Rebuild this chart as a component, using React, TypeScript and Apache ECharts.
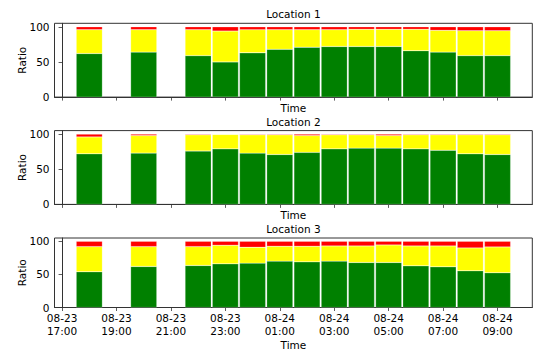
import React, { useEffect, useRef } from "react";
import * as echarts from "echarts";

// Hourly observation slots (MM-DD HH:mm)
const times = [
  "08-23 18:00", "08-23 20:00", "08-23 22:00", "08-23 23:00",
  "08-24 00:00", "08-24 01:00", "08-24 02:00", "08-24 03:00",
  "08-24 04:00", "08-24 05:00", "08-24 06:00", "08-24 07:00",
  "08-24 08:00", "08-24 09:00",
];

// Labelled ticks on the time axis
const tickTimes = [
  "08-23 17:00", "08-23 19:00", "08-23 21:00", "08-23 23:00",
  "08-24 01:00", "08-24 03:00", "08-24 05:00", "08-24 07:00", "08-24 09:00",
];

const yTicks = [0, 50, 100];

const locations = ["Location 1", "Location 2", "Location 3"];

// Share (%) of each state per slot
const loc1Green = [62, 64, 59, 50, 63, 68, 71, 72, 72, 72, 66, 64, 59, 59];
const loc1Yellow = [34, 32, 37, 44, 33, 28, 25, 24, 24.5, 24.5, 30.5, 31, 35.5, 35.5];
const loc1Red = [4, 4, 4, 6, 4, 4, 4, 4, 3.5, 3.5, 3.5, 5, 5.5, 5.5];

const loc2Green = [72, 73, 76, 79, 73, 71, 74, 79, 80, 80, 79, 77, 72, 71];
const loc2Yellow = [24, 25, 23, 20.5, 26, 28, 24, 20, 19, 18, 20, 22, 27, 28];
const loc2Red = [4, 2, 1, 0.5, 1, 1, 2, 1, 1, 2, 1, 1, 1, 1];

const loc3Green = [54, 62, 63.5, 66, 67, 70, 69, 70, 68, 68, 63, 61.5, 55.5, 52.5];
const loc3Yellow = [38, 30, 28.5, 28, 24, 22.5, 23.5, 23, 25, 26.5, 30, 31.5, 34.5, 39];
const loc3Red = [8, 8, 8, 6, 9, 7.5, 7.5, 7, 7, 5.5, 7, 7, 10, 8.5];

const greens = [loc1Green, loc2Green, loc3Green];
const yellows = [loc1Yellow, loc2Yellow, loc3Yellow];
const reds = [loc1Red, loc2Red, loc3Red];

// Hours since 08-23 17:00
function toHours(s: string): number {
  const [md, hm] = s.split(" ");
  const d = Number(md.split("-")[1]);
  const [h, m] = hm.split(":").map(Number);
  return (d - 23) * 24 + (h - 17) + m / 60;
}

function tickLabel(v: number): string {
  const t = tickTimes.find((s) => Math.abs(toHours(s) - v) < 1e-6);
  return t ? t.replace(" ", "\n") : "";
}

const FONT = "DejaVu Sans";
const FS = 10.5;
const INK = "#000";
const SPINE = "#333";

export default function App() {
  const ref = useRef<HTMLDivElement>(null);

  useEffect(() => {
    if (!ref.current) return;
    const chart = echarts.init(ref.current, undefined, { renderer: "svg" });

    const tops = [23.3, 130.6, 238];
    const gridH = 73.8;
    const left = 54.5;
    const right = 4.7;
    const centerX = left + (537 - left - right) / 2;
    const xs = times.map(toHours);
    const tickVals = tickTimes.map(toHours);

    const grid = tops.map((t) => ({
      left,
      right,
      top: t,
      height: gridH,
      show: true,
      borderColor: SPINE,
      borderWidth: 1,
      backgroundColor: "transparent",
      containLabel: false,
    }));

    const title = locations.map((name, i) => ({
      text: name,
      left: centerX,
      textAlign: "center",
      top: tops[i] - 14.5,
      padding: 0,
      textStyle: { fontFamily: FONT, fontSize: FS, fontWeight: "normal", color: INK },
    }));

    const xAxis = tops.map((_, i) => ({
      type: "value",
      gridIndex: i,
      min: -0.278,
      max: 17.278,
      name: "Time",
      nameLocation: "middle",
      nameGap: i === 2 ? 31.5 : 5,
      nameMoveOverlap: false,
      nameTextStyle: { fontFamily: FONT, fontSize: FS, color: INK },
      axisLine: { show: true, lineStyle: { color: SPINE, width: 1 } },
      axisTick: {
        show: true,
        length: 3.5,
        inside: false,
        customValues: tickVals,
        lineStyle: { color: SPINE, width: 0.8 },
      },
      axisLabel: {
        show: i === 2,
        customValues: tickVals,
        formatter: (v: number) => tickLabel(v),
        fontFamily: FONT,
        fontSize: FS,
        lineHeight: 12.8,
        color: INK,
        margin: 4,
      },
      splitLine: { show: false },
    }));

    const yAxis = tops.map((_, i) => ({
      type: "value",
      gridIndex: i,
      min: 0,
      max: 105,
      name: "Ratio",
      nameLocation: "middle",
      nameRotate: 90,
      nameGap: 27,
      nameMoveOverlap: false,
      nameTextStyle: { fontFamily: FONT, fontSize: FS, color: INK },
      axisLine: { show: true, lineStyle: { color: SPINE, width: 1 } },
      axisTick: {
        show: true,
        length: 3.5,
        inside: false,
        customValues: yTicks,
        lineStyle: { color: SPINE, width: 0.8 },
      },
      axisLabel: {
        customValues: yTicks,
        fontFamily: FONT,
        fontSize: FS,
        color: INK,
        margin: 5,
      },
      splitLine: { show: false },
    }));

    const series: any[] = [];
    const layers: [number[][], string][] = [
      [greens, "#008000"],
      [yellows, "#ffff00"],
      [reds, "#ff0000"],
    ];
    tops.forEach((_, i) => {
      layers.forEach(([vals, color]) => {
        series.push({
          type: "bar",
          xAxisIndex: i,
          yAxisIndex: i,
          stack: "loc" + i,
          barWidth: "96%",
          // value first so the stack accumulates along y
          encode: { x: 1, y: 0 },
          itemStyle: { color, borderColor: "rgba(255,255,255,0.55)", borderWidth: 0.4 },
          data: vals[i].map((v, k) => [v, xs[k]]),
        });
      });
    });

    chart.setOption({
      animation: false,
      backgroundColor: "#fff",
      textStyle: { fontFamily: FONT },
      title,
      grid,
      xAxis,
      yAxis,
      series,
    });

    return () => chart.dispose();
  }, []);

  return (
    <div
      ref={ref}
      style={{ position: "fixed", left: 0, top: 0, width: 537, height: 351 }}
    />
  );
}
